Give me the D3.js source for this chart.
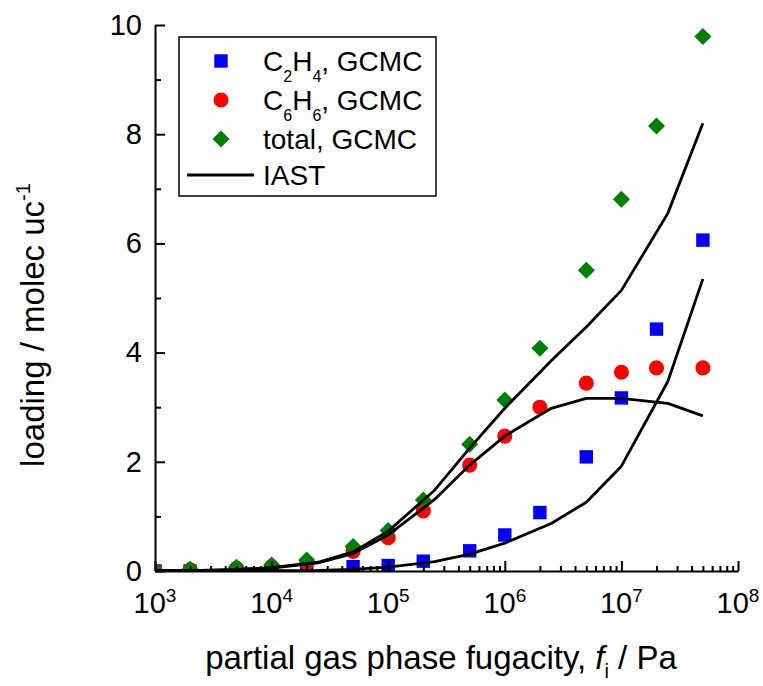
<!DOCTYPE html>
<html>
<head>
<meta charset="utf-8">
<script src="https://cdn.jsdelivr.net/npm/d3@7"></script>
<style>
  body { margin: 0; background: #fff; }
  text { font-family: Arial, "Liberation Sans", Helvetica, sans-serif; }
</style>
</head>
<body>
<div id="graphic"></div>
<script>
// GCMC fugacities (Pa) and loadings (molec/uc)
const gcmcF = [1e3, 2e3, 5e3, 1e4, 2e4, 5e4, 1e5, 2e5, 5e5, 1e6, 2e6, 5e6, 1e7, 2e7, 5e7];
const c2h4Gcmc = [0, 0, 0, 0.005, 0.01, 0.08, 0.1, 0.18, 0.37, 0.66, 1.07, 2.09, 3.17, 4.43, 6.06];
const c6h6Gcmc = [0, 0.02, 0.05, 0.08, 0.15, 0.36, 0.61, 1.1, 1.94, 2.47, 3.0, 3.44, 3.64, 3.72, 3.72];
const totalGcmc = [0, 0.03, 0.07, 0.11, 0.2, 0.45, 0.74, 1.3, 2.32, 3.13, 4.08, 5.51, 6.81, 8.15, 9.79];

// IAST predictions
const iastF = [1e3, 2.5e3, 5e3, 1e4, 2.5e4, 5e4, 1e5, 2.5e5, 5e5, 1e6, 2.5e6, 5e6, 1e7, 2.5e7, 5e7];
const c2h4Iast = [0, 0, 0.002, 0.005, 0.01, 0.03, 0.07, 0.17, 0.31, 0.51, 0.87, 1.26, 1.92, 3.47, 5.35];
const c6h6Iast = [0.005, 0.01, 0.025, 0.055, 0.15, 0.32, 0.66, 1.31, 1.94, 2.47, 2.98, 3.16, 3.16, 3.07, 2.84];
const totalIast = [0.005, 0.01, 0.027, 0.06, 0.16, 0.35, 0.73, 1.48, 2.25, 2.98, 3.85, 4.47, 5.14, 6.55, 8.2];

const xMajor = [1e3, 1e4, 1e5, 1e6, 1e7, 1e8];
const yMajor = [0, 2, 4, 6, 8, 10];
const yMinor = [1, 3, 5, 7, 9];

const W = 763, H = 686;
const margin = {left: 155, right: 738, top: 25, bottom: 571};

const svg = d3.select("#graphic")
    .append("svg")
    .attr("width", W)
    .attr("height", H);

const x = d3.scaleLog().domain([1e3, 1e8]).range([margin.left, margin.right]);
const y = d3.scaleLinear().domain([0, 10]).range([margin.bottom, margin.top]);

// minor x ticks 2..9 per decade
const xMinor = [];
xMajor.slice(0, -1).forEach(d => { for (let k = 2; k <= 9; k++) xMinor.push(d * k); });

svg.append("defs").append("clipPath").attr("id", "plotclip")
    .append("rect")
    .attr("x", margin.left).attr("y", margin.top)
    .attr("width", margin.right - margin.left).attr("height", margin.bottom - margin.top);

const plot = svg.append("g").attr("clip-path", "url(#plotclip)");

// markers
const series = [
    {vals: c2h4Gcmc, color: "#0000ff", shape: d3.symbolSquare, size: 180},
    {vals: c6h6Gcmc, color: "#ff0000", shape: d3.symbolCircle, size: 180},
    {vals: totalGcmc, color: "#008000", shape: d3.symbolDiamond2, size: 185}
];

series.forEach(s => {
    plot.append("g")
        .selectAll("path")
        .data(gcmcF.map((f, i) => [f, s.vals[i]]))
        .join("path")
        .attr("d", d3.symbol().type(s.shape).size(s.size))
        .attr("transform", d => `translate(${x(d[0])},${y(d[1])})`)
        .attr("fill", s.color);
});

// IAST lines
const line = d3.line().x(d => x(d[0])).y(d => y(d[1]));
[c2h4Iast, c6h6Iast, totalIast].forEach(vals => {
    plot.append("path")
        .datum(iastF.map((f, i) => [f, vals[i]]))
        .attr("d", line)
        .attr("fill", "none")
        .attr("stroke", "#000")
        .attr("stroke-width", 2.8)
        .attr("stroke-linejoin", "round");
});

// axes (ticks point inward)
const gy = svg.append("g").attr("transform", `translate(${margin.left},0)`);
gy.call(d3.axisLeft(y).tickValues(yMajor).tickSize(-10).tickSizeOuter(0).tickPadding(13));
gy.append("g").call(d3.axisLeft(y).tickValues(yMinor).tickSize(-6).tickFormat(""))
    .select(".domain").remove();

const gx = svg.append("g").attr("transform", `translate(0,${margin.bottom})`);
gx.call(d3.axisBottom(x).tickValues(xMajor).tickSize(-10).tickSizeOuter(0).tickFormat(""));
gx.append("g").call(d3.axisBottom(x).tickValues(xMinor).tickSize(-5).tickFormat(""))
    .select(".domain").remove();

svg.selectAll(".domain, .tick line").attr("stroke", "#000").attr("stroke-width", 2);

gy.selectAll(".tick text")
    .attr("font-size", 29)
    .attr("fill", "#000");

// x tick labels as 10^n
const xLab = svg.append("g")
    .selectAll("text")
    .data(xMajor)
    .join("text")
    .attr("x", d => x(d))
    .attr("y", 613)
    .attr("text-anchor", "middle")
    .attr("font-size", 29);
xLab.append("tspan").text("10");
xLab.append("tspan").attr("font-size", 19).attr("dy", -11)
    .text(d => Math.round(Math.log10(d)));

// axis titles
const xt = svg.append("text")
    .attr("x", 441).attr("y", 669)
    .attr("text-anchor", "middle")
    .attr("font-size", 33);
xt.append("tspan").text("partial gas phase fugacity, ");
xt.append("tspan").attr("font-style", "italic").text("f");
xt.append("tspan").attr("font-size", 20).attr("dy", 9).text("i");
xt.append("tspan").attr("dy", -9).text(" / Pa");

const yt = svg.append("text")
    .attr("transform", "translate(44,325) rotate(-90)")
    .attr("text-anchor", "middle")
    .attr("font-size", 33);
yt.append("tspan").text("loading / molec uc");
yt.append("tspan").attr("font-size", 20).attr("dy", -14).text("-1");

// legend
const legend = svg.append("g");
legend.append("rect")
    .attr("x", 179).attr("y", 37)
    .attr("width", 257).attr("height", 159)
    .attr("fill", "#fff")
    .attr("stroke", "#000")
    .attr("stroke-width", 1.5);

const legendRows = [
    {parts: [["C"], ["2", 1], ["H"], ["4", 1], [", GCMC"]], s: series[0]},
    {parts: [["C"], ["6", 1], ["H"], ["6", 1], [", GCMC"]], s: series[1]},
    {parts: [["total, GCMC"]], s: series[2]},
    {parts: [["IAST"]], s: null}
];
const rowY = [61, 100, 139, 175];

legendRows.forEach((r, i) => {
    const ly = rowY[i];
    if (r.s) {
        legend.append("path")
            .attr("d", d3.symbol().type(r.s.shape).size(r.s.size))
            .attr("transform", `translate(221,${ly})`)
            .attr("fill", r.s.color);
    } else {
        legend.append("line")
            .attr("x1", 187).attr("x2", 254)
            .attr("y1", ly).attr("y2", ly)
            .attr("stroke", "#000").attr("stroke-width", 2.8);
    }
    const t = legend.append("text")
        .attr("x", 263).attr("y", ly + 9.5)
        .attr("font-size", 28);
    let shifted = false;
    r.parts.forEach(p => {
        const ts = t.append("tspan").text(p[0]);
        if (p[1]) {
            ts.attr("font-size", 16);
            if (!shifted) { ts.attr("dy", 11); shifted = true; }
        } else if (shifted) { ts.attr("dy", -11); shifted = false; }
    });
});
</script>
</body>
</html>
